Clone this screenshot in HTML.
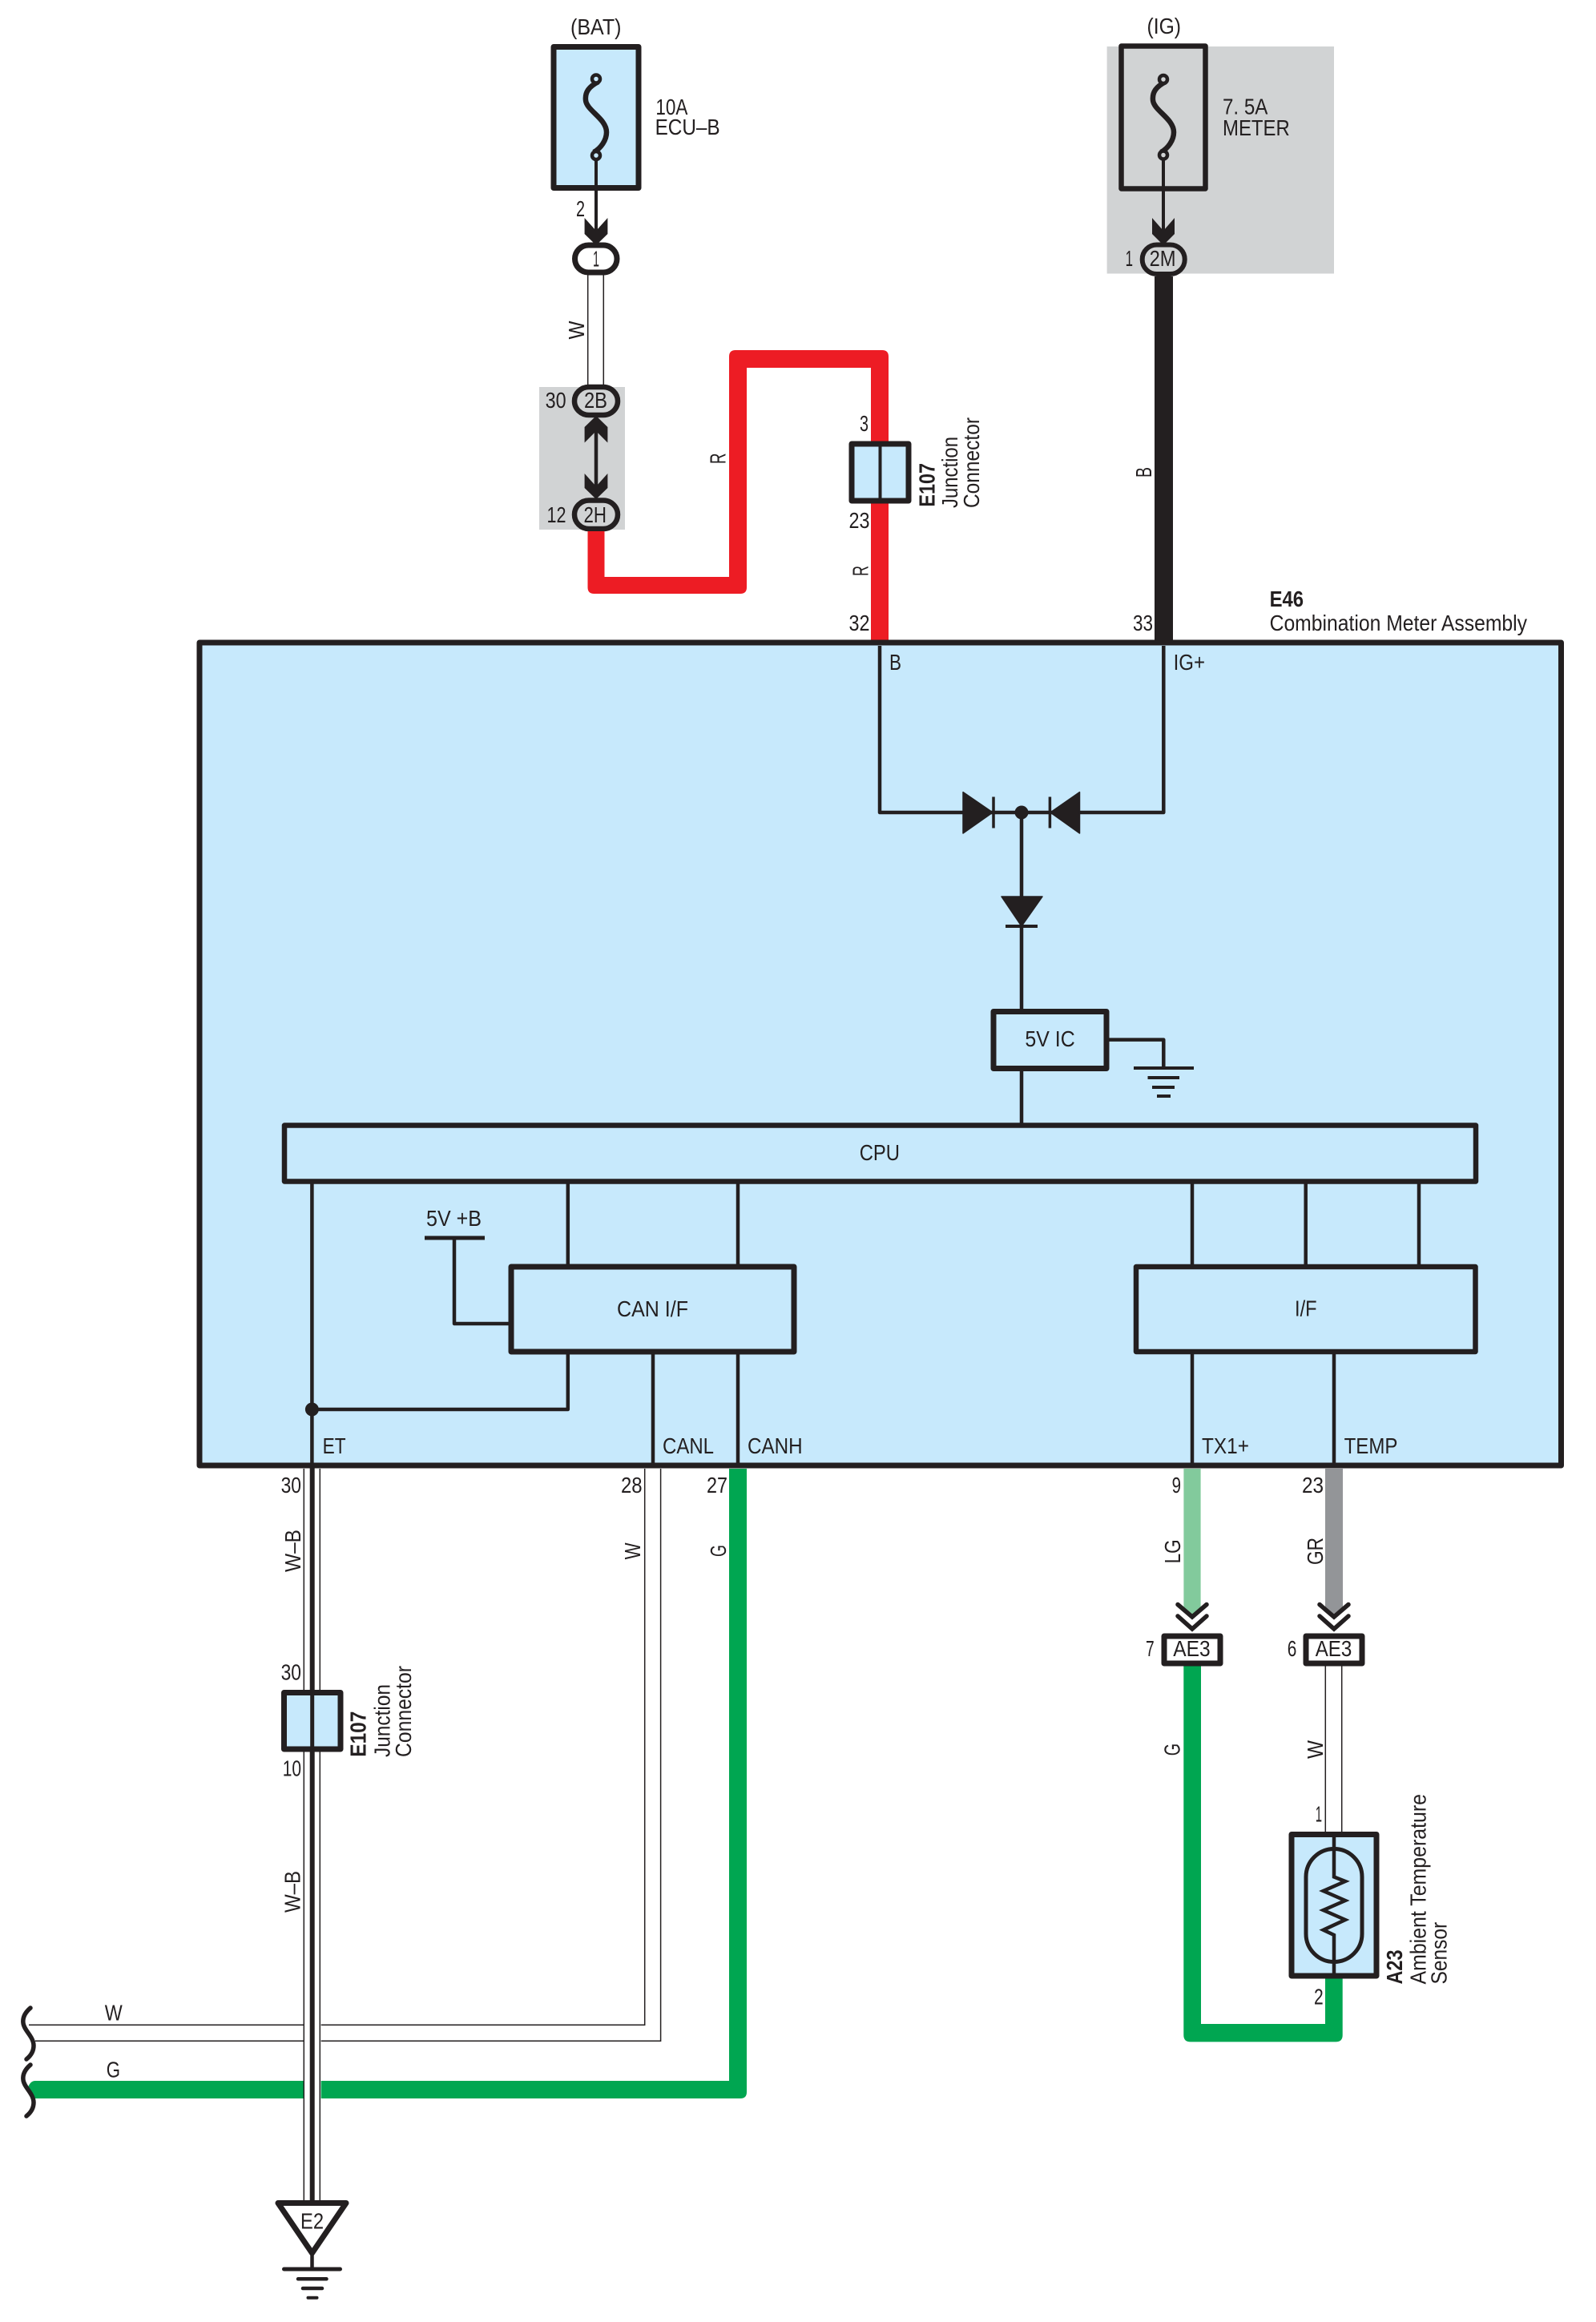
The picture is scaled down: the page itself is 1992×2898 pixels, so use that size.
<!DOCTYPE html>
<html>
<head>
<meta charset="utf-8">
<title>Combination Meter Wiring Diagram</title>
<style>
html,body{margin:0;padding:0;background:#fff;}
svg{display:block;}
text{font-family:"Liberation Sans",sans-serif;font-size:28px;fill:#231f20;}
.b{font-weight:bold;}
</style>
</head>
<body>
<svg xmlns="http://www.w3.org/2000/svg" width="1992" height="2898" viewBox="0 0 1992 2898">
<rect width="1992" height="2898" fill="#fff"/>

<!-- gray backgrounds -->
<rect x="673" y="483" width="107" height="178" fill="#d1d3d4"/>
<rect x="1381.6" y="58" width="283.4" height="283.5" fill="#d1d3d4"/>

<!-- BAT fuse -->
<rect x="691" y="58.5" width="106" height="176" fill="#c7e9fc" stroke="#231f20" stroke-width="7" stroke-linejoin="round"/>
<g fill="none" stroke="#231f20">
<path d="M744 194V302" stroke-width="4"/>
<path d="M747 102C735 108 730 115 731 125C732 138 757 148 757 165C757 175 750 185 741 190" stroke-width="6.5"/>
<circle cx="744" cy="98.5" r="5" fill="#c7e9fc" stroke-width="4.5"/>
<circle cx="744" cy="194" r="5" fill="#c7e9fc" stroke-width="4.5"/>
</g>
<polygon points="729.6,272 744,288 758.4,272 758.4,292 744,306 729.6,292" fill="#231f20"/>

<!-- IG fuse -->
<rect x="1399.5" y="57.5" width="105" height="178" fill="none" stroke="#231f20" stroke-width="6.5" stroke-linejoin="round"/>
<g fill="none" stroke="#231f20" transform="translate(708 0)">
<path d="M744 194V302" stroke-width="4"/>
<path d="M747 102C735 108 730 115 731 125C732 138 757 148 757 165C757 175 750 185 741 190" stroke-width="6.5"/>
<circle cx="744" cy="99" r="5" fill="#d1d3d4" stroke-width="4.5"/>
<circle cx="744" cy="193.5" r="5" fill="#d1d3d4" stroke-width="4.5"/>
</g>
<polygon points="1438,272 1452,288 1466,272 1466,292 1452,306 1438,292" fill="#231f20"/>

<!-- W wire top -->
<path d="M733.7 343V482M753.3 343V482" stroke="#231f20" stroke-width="1.5" fill="none"/>

<!-- double arrow between 2B / 2H -->
<path d="M744 530V610" stroke="#231f20" stroke-width="4.5" fill="none"/>
<polygon points="729.6,552.5 744,538 758.4,552.5 758.4,533 744,519 729.6,533" fill="#231f20"/>
<polygon points="729.6,591 744,607 758.4,591 758.4,609 744,623 729.6,609" fill="#231f20"/>

<!-- pills -->
<rect x="717.5" y="306" width="52.5" height="34" rx="17" fill="#fff" stroke="#231f20" stroke-width="7"/>
<rect x="717" y="483" width="54" height="35" rx="18" fill="#d1d3d4" stroke="#231f20" stroke-width="6.5"/>
<rect x="717" y="624.5" width="54" height="35.5" rx="18" fill="#d1d3d4" stroke="#231f20" stroke-width="6.5"/>
<rect x="1425.7" y="305.5" width="53" height="36.5" rx="18" fill="#d1d3d4" stroke="#231f20" stroke-width="6"/>

<!-- red wire -->
<path d="M733.5 663V733Q733.5 741 741.5 741H924Q932 741 932 733V459H1087V802H1109V445Q1109 437 1101 437H918Q910 437 910 445V720H754.5V663Z" fill="#ed1c24"/>

<!-- black wire -->
<path d="M1441 345H1464V802H1441Z" fill="#231f20"/>

<!-- E107 upper -->
<rect x="1063" y="554" width="71" height="71" fill="#c7e9fc" stroke="#231f20" stroke-width="7" stroke-linejoin="round"/>
<path d="M1098.5 554V625" stroke="#231f20" stroke-width="4" fill="none"/>

<!-- main box -->
<rect x="249" y="802" width="1699.5" height="1027" fill="#c7e9fc" stroke="#231f20" stroke-width="7" stroke-linejoin="round"/>

<!-- internal wiring -->
<g fill="none" stroke="#231f20" stroke-width="4.5" stroke-linejoin="round">
<path d="M1098 806V1014H1240"/>
<path d="M1452.3 806V1014H1311"/>
<path d="M1240 1014H1311"/>
<path d="M1275 1014V1260"/>
<path d="M1240 994.5V1033.5" stroke-width="3.5"/>
<path d="M1310.4 994.5V1033.5" stroke-width="3.5"/>
<path d="M1255 1156H1295" stroke-width="4"/>
<path d="M1275 1336V1403"/>
<path d="M1384 1297.6H1452.3V1333"/>
<path d="M1415 1333H1490" stroke-width="4"/>
<path d="M1432.5 1345H1472" stroke-width="4"/>
<path d="M1438 1357H1466" stroke-width="4"/>
<path d="M1444 1368H1461" stroke-width="4"/>
<path d="M389.4 1477V1829"/>
<path d="M708.8 1477V1581"/>
<path d="M921 1477V1581"/>
<path d="M530 1545H605" stroke-width="5"/>
<path d="M567 1545V1652H638"/>
<path d="M708.8 1687V1759H389"/>
<path d="M815 1687V1829"/>
<path d="M921 1687V1829"/>
<path d="M1488 1477V1581"/>
<path d="M1629.7 1477V1581"/>
<path d="M1771 1477V1581"/>
<path d="M1488 1687V1829"/>
<path d="M1665 1687V1829"/>
</g>
<polygon points="1202,988.6 1239,1014 1202,1040" fill="#231f20" stroke="#231f20" stroke-width="1.5" stroke-linejoin="round"/>
<polygon points="1347.5,988.6 1311,1014 1347.5,1040" fill="#231f20" stroke="#231f20" stroke-width="1.5" stroke-linejoin="round"/>
<polygon points="1250,1119 1301,1119 1275,1156" fill="#231f20" stroke="#231f20" stroke-width="1.5" stroke-linejoin="round"/>
<circle cx="1275" cy="1014" r="8.5" fill="#231f20"/>
<circle cx="389.4" cy="1759" r="8.5" fill="#231f20"/>
<rect x="1240" y="1262.5" width="141" height="71" fill="#c7e9fc" stroke="#231f20" stroke-width="7" stroke-linejoin="round"/>
<rect x="355" y="1404.5" width="1487" height="70" fill="#c7e9fc" stroke="#231f20" stroke-width="6.5" stroke-linejoin="round"/>
<rect x="638" y="1581" width="353" height="106" fill="#c7e9fc" stroke="#231f20" stroke-width="7" stroke-linejoin="round"/>
<rect x="1418" y="1581" width="423.5" height="106" fill="#c7e9fc" stroke="#231f20" stroke-width="6.5" stroke-linejoin="round"/>

<!-- lower wires: white W pair -->
<path d="M804.7 1833V2527.3H36M824.6 1833V2547.3H44" fill="none" stroke="#231f20" stroke-width="1.5"/>
<!-- green G -->
<path d="M910 1833V2597H44Q38 2597 35 2605L43 2619H924Q932 2619 932 2611V1833Z" fill="#00a651"/>
<!-- gap at ET crossing -->
<rect x="379.3" y="2515" width="21.4" height="110" fill="#fff"/>
<!-- ET wire -->
<path d="M379.3 1833V2750M399.3 1833V2750" fill="none" stroke="#231f20" stroke-width="1.5"/>
<path d="M389.7 1829V2750" fill="none" stroke="#231f20" stroke-width="6"/>

<!-- squiggles -->
<g fill="none" stroke="#231f20" stroke-width="5.5" stroke-linecap="round">
<path d="M38 2506C31 2512 28 2518 29 2525C30 2534 42 2542 42 2553C42 2560 38 2566 33 2570"/>
<path d="M38 2577C31 2583 28 2589 29 2596C30 2605 42 2613 42 2624C42 2631 38 2637 33 2641"/>
</g>

<!-- E107 lower -->
<rect x="354.5" y="2112.5" width="70.5" height="70.5" fill="#c7e9fc" stroke="#231f20" stroke-width="7" stroke-linejoin="round"/>
<path d="M389.7 2112V2183" stroke="#231f20" stroke-width="5" fill="none"/>

<!-- E2 ground -->
<polygon points="347,2749.5 432,2749.5 389.5,2812" fill="#fff" stroke="#231f20" stroke-width="7" stroke-linejoin="round"/>
<g fill="none" stroke="#231f20" stroke-linecap="round">
<path d="M389.5 2812V2832" stroke-width="4.5"/>
<path d="M354.5 2832H424.5" stroke-width="5"/>
<path d="M372 2844.3H407.5" stroke-width="4.5"/>
<path d="M378 2856H402" stroke-width="4.5"/>
<path d="M384.5 2867.7H395.5" stroke-width="4"/>
</g>

<!-- LG and GR wires -->
<polygon points="1477.4,1833 1498.6,1833 1498.6,2007 1488,2017 1477.4,2007" fill="#82ca9c"/>
<polygon points="1654,1833 1676,1833 1676,2007 1665,2017 1654,2007" fill="#939598"/>
<g fill="none" stroke="#231f20" stroke-width="5.5" stroke-linecap="round">
<path d="M1470 2002.5L1488 2018L1506 2002.5"/>
<path d="M1470 2017L1488 2033L1506 2017"/>
<path d="M1647 2002.5L1665 2018L1683 2002.5"/>
<path d="M1647 2017L1665 2033L1683 2017"/>
</g>

<!-- green wire to sensor -->
<path d="M1477.3 2079V2540Q1477.3 2548.4 1486 2548.4H1667Q1675.7 2548.4 1675.7 2540V2469H1654V2526H1499V2079Z" fill="#00a651"/>
<!-- W wire to sensor -->
<path d="M1654.3 2079V2287M1674.7 2079V2287" fill="none" stroke="#231f20" stroke-width="1.5"/>

<!-- AE3 boxes -->
<rect x="1453" y="2042" width="70" height="34" fill="#fff" stroke="#231f20" stroke-width="7" stroke-linejoin="round"/>
<rect x="1630" y="2042" width="70" height="34" fill="#fff" stroke="#231f20" stroke-width="7" stroke-linejoin="round"/>

<!-- sensor -->
<rect x="1612" y="2289.5" width="106" height="176.5" fill="#c7e9fc" stroke="#231f20" stroke-width="7" stroke-linejoin="round"/>
<rect x="1630" y="2307.5" width="70" height="141" rx="35" fill="none" stroke="#231f20" stroke-width="5"/>
<polyline points="1665,2289 1665,2342.5 1679,2348 1651.7,2360 1679,2372 1651.7,2384 1679,2396 1651.7,2408.7 1665,2415 1665,2466" fill="none" stroke="#231f20" stroke-width="4.5"/>

<!-- TEXT horizontal -->
<text x="712" y="43" textLength="63.5" lengthAdjust="spacingAndGlyphs">(BAT)</text>
<text x="1431.5" y="42" textLength="42.5" lengthAdjust="spacingAndGlyphs">(IG)</text>
<text x="818.4" y="143" textLength="40" lengthAdjust="spacingAndGlyphs">10A</text>
<text x="817.6" y="168" textLength="81" lengthAdjust="spacingAndGlyphs">ECU–B</text>
<text x="1526" y="142.5" textLength="56.4" lengthAdjust="spacingAndGlyphs">7. 5A</text>
<text x="1526" y="169" textLength="83.8" lengthAdjust="spacingAndGlyphs">METER</text>
<text x="719" y="270" textLength="11" lengthAdjust="spacingAndGlyphs">2</text>
<text x="740" y="332.6" textLength="8" lengthAdjust="spacingAndGlyphs">1</text>
<text x="729" y="509" textLength="29" lengthAdjust="spacingAndGlyphs">2B</text>
<text x="728.5" y="652" textLength="28.5" lengthAdjust="spacingAndGlyphs">2H</text>
<text x="680.6" y="509" textLength="26" lengthAdjust="spacingAndGlyphs">30</text>
<text x="682.5" y="652" textLength="24" lengthAdjust="spacingAndGlyphs">12</text>
<text x="1404.6" y="332" textLength="9.4" lengthAdjust="spacingAndGlyphs">1</text>
<text x="1434.6" y="332" textLength="33" lengthAdjust="spacingAndGlyphs">2M</text>
<text x="1073" y="538" textLength="11" lengthAdjust="spacingAndGlyphs">3</text>
<text x="1059.5" y="659" textLength="26" lengthAdjust="spacingAndGlyphs">23</text>
<text x="1059.5" y="787" textLength="26" lengthAdjust="spacingAndGlyphs">32</text>
<text x="1414" y="787" textLength="25" lengthAdjust="spacingAndGlyphs">33</text>
<text class="b" x="1584.6" y="757" textLength="42.5" lengthAdjust="spacingAndGlyphs">E46</text>
<text x="1584.6" y="787" textLength="321.4" lengthAdjust="spacingAndGlyphs">Combination Meter Assembly</text>
<text x="1110" y="836" textLength="15" lengthAdjust="spacingAndGlyphs">B</text>
<text x="1464.6" y="836" textLength="39.4" lengthAdjust="spacingAndGlyphs">IG+</text>
<text x="1279.4" y="1306" textLength="62.3" lengthAdjust="spacingAndGlyphs">5V IC</text>
<text x="1072.7" y="1448" textLength="50.3" lengthAdjust="spacingAndGlyphs">CPU</text>
<text x="532" y="1530" textLength="69" lengthAdjust="spacingAndGlyphs">5V +B</text>
<text x="770" y="1643" textLength="89" lengthAdjust="spacingAndGlyphs">CAN I/F</text>
<text x="1616" y="1642.5" textLength="27.6" lengthAdjust="spacingAndGlyphs">I/F</text>
<text x="402.6" y="1814" textLength="29" lengthAdjust="spacingAndGlyphs">ET</text>
<text x="827" y="1814" textLength="64" lengthAdjust="spacingAndGlyphs">CANL</text>
<text x="933" y="1814" textLength="68.6" lengthAdjust="spacingAndGlyphs">CANH</text>
<text x="1500" y="1814" textLength="59" lengthAdjust="spacingAndGlyphs">TX1+</text>
<text x="1677.6" y="1814" textLength="66.8" lengthAdjust="spacingAndGlyphs">TEMP</text>
<text x="350.6" y="1863" textLength="25.4" lengthAdjust="spacingAndGlyphs">30</text>
<text x="775" y="1863" textLength="26.6" lengthAdjust="spacingAndGlyphs">28</text>
<text x="882" y="1863" textLength="26" lengthAdjust="spacingAndGlyphs">27</text>
<text x="1462.6" y="1863" textLength="11.4" lengthAdjust="spacingAndGlyphs">9</text>
<text x="1625" y="1863" textLength="27" lengthAdjust="spacingAndGlyphs">23</text>
<text x="350.6" y="2096.7" textLength="25.4" lengthAdjust="spacingAndGlyphs">30</text>
<text x="352.7" y="2216.7" textLength="23.3" lengthAdjust="spacingAndGlyphs">10</text>
<text x="1430" y="2067" textLength="10.7" lengthAdjust="spacingAndGlyphs">7</text>
<text x="1606.7" y="2067" textLength="11.6" lengthAdjust="spacingAndGlyphs">6</text>
<text x="1464.3" y="2067" textLength="46.4" lengthAdjust="spacingAndGlyphs">AE3</text>
<text x="1641.7" y="2067" textLength="45.6" lengthAdjust="spacingAndGlyphs">AE3</text>
<text x="1641.7" y="2273.6" textLength="8.3" lengthAdjust="spacingAndGlyphs">1</text>
<text x="1640" y="2501.3" textLength="11.7" lengthAdjust="spacingAndGlyphs">2</text>
<text x="130.7" y="2521.7" textLength="22" lengthAdjust="spacingAndGlyphs">W</text>
<text x="132.7" y="2592.7" textLength="17.3" lengthAdjust="spacingAndGlyphs">G</text>
<text x="375" y="2781.7" textLength="29" lengthAdjust="spacingAndGlyphs">E2</text>

<!-- TEXT rotated -->
<text transform="translate(729 423.5) rotate(-90)" textLength="23" lengthAdjust="spacingAndGlyphs">W</text>
<text transform="translate(905.6 579) rotate(-90)" textLength="13.5" lengthAdjust="spacingAndGlyphs">R</text>
<text transform="translate(1083.6 719) rotate(-90)" textLength="13" lengthAdjust="spacingAndGlyphs">R</text>
<text class="b" transform="translate(1166.6 632.6) rotate(-90)" textLength="54.6" lengthAdjust="spacingAndGlyphs">E107</text>
<text transform="translate(1195 634) rotate(-90)" textLength="89" lengthAdjust="spacingAndGlyphs">Junction</text>
<text transform="translate(1222 634) rotate(-90)" textLength="113" lengthAdjust="spacingAndGlyphs">Connector</text>
<text transform="translate(1436.8 596) rotate(-90)" textLength="13" lengthAdjust="spacingAndGlyphs">B</text>
<text transform="translate(375 1962) rotate(-90)" textLength="53" lengthAdjust="spacingAndGlyphs">W–B</text>
<text transform="translate(374.5 2387) rotate(-90)" textLength="52" lengthAdjust="spacingAndGlyphs">W–B</text>
<text transform="translate(799 1946.4) rotate(-90)" textLength="21" lengthAdjust="spacingAndGlyphs">W</text>
<text transform="translate(906 1943) rotate(-90)" textLength="15" lengthAdjust="spacingAndGlyphs">G</text>
<text transform="translate(1473 1951.4) rotate(-90)" textLength="30" lengthAdjust="spacingAndGlyphs">LG</text>
<text transform="translate(1651 1953) rotate(-90)" textLength="34" lengthAdjust="spacingAndGlyphs">GR</text>
<text transform="translate(1472.3 2191.3) rotate(-90)" textLength="15.3" lengthAdjust="spacingAndGlyphs">G</text>
<text transform="translate(1651 2195) rotate(-90)" textLength="23" lengthAdjust="spacingAndGlyphs">W</text>
<text class="b" transform="translate(456.7 2192.7) rotate(-90)" textLength="57" lengthAdjust="spacingAndGlyphs">E107</text>
<text transform="translate(486.7 2193) rotate(-90)" textLength="91" lengthAdjust="spacingAndGlyphs">Junction</text>
<text transform="translate(513 2193) rotate(-90)" textLength="114" lengthAdjust="spacingAndGlyphs">Connector</text>
<text class="b" transform="translate(1750 2476.5) rotate(-90)" textLength="43" lengthAdjust="spacingAndGlyphs">A23</text>
<text transform="translate(1779.3 2476.5) rotate(-90)" textLength="237.5" lengthAdjust="spacingAndGlyphs">Ambient Temperature</text>
<text transform="translate(1805.7 2476.5) rotate(-90)" textLength="77.7" lengthAdjust="spacingAndGlyphs">Sensor</text>
</svg>
</body>
</html>
